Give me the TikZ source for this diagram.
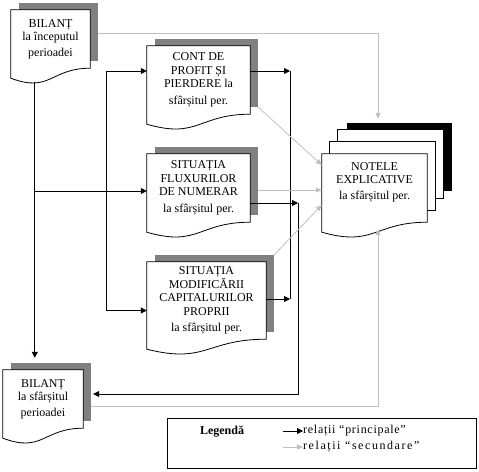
\documentclass[tikz,border=0pt]{standalone}
\usepackage{fontspec}
\setmainfont{Liberation Serif}
\usetikzlibrary{arrows.meta,backgrounds}
\definecolor{umbra}{RGB}{128,128,128}
\definecolor{secund}{RGB}{192,192,192}
\begin{document}
\begin{tikzpicture}[x=1pt,y=-1pt,
    every node/.style={font=\fontsize{12}{13.5}\selectfont},
    doc/.style 2 args={minimum width=#1,minimum height=#2,inner sep=0pt,align=center},
    wire/.style={draw,line width=0.8pt},
    mainarrow/.style={draw,line width=0.8pt,-{Triangle[length=6pt,width=6pt]}},
    secarrow/.style={draw=secund,line width=0.8pt,-{Triangle[length=6pt,width=5pt]}}]
    \def\docpath#1{(#1.north west) -- (#1.north east) -- (#1.south east) .. controls (#1.south) and ([shift={(0,25)}]#1.south) .. ([shift={(0,10)}]#1.south west) -- cycle}
    \def\docshadow#1{([shift={(8,-7)}]#1.north west) rectangle ([shift={(8,-7)}]#1.south east)}
    \useasboundingbox (0,0) rectangle (479,471);
    % documente
    \node[doc={79pt}{58pt}] (bil1) at (50.5,39) {BILANȚ\\la începutul\\[2pt]perioadei};
    \node[doc={103pt}{68pt}] (cont) at (198.5,80) {CONT DE\\PROFIT ȘI\\PIERDERE la\\[3pt]sfârșitul per.};
    \node[doc={103pt}{68pt}] (flux) at (198.5,188) {SITUAȚIA\\FLUXURILOR\\DE NUMERAR\\[3pt]la sfârșitul per.};
    \node[doc={119pt}{77pt}] (modif) at (206.5,300.5) {SITUAȚIA\\MODIFICĂRII\\CAPITALURILOR\\PROPRII\\[3pt]la sfârșitul per.};
    \node[doc={80pt}{58pt}] (bil2) at (43,399) {BILANȚ\\la sfârșitul\\[2pt]perioadei};
    \node[doc={105pt}{68pt}] (note) at (374.5,188) {};
    \node[align=center] (notetext) at (374.5,182) {NOTELE\\EXPLICATIVE\\[2pt]la sfârșitul per.};
    \begin{scope}[on background layer]
        \fill[umbra] \docshadow{bil1};
        \fill[umbra] \docshadow{cont};
        \fill[umbra] \docshadow{flux};
        \fill[umbra] \docshadow{modif};
        \fill[umbra] \docshadow{bil2};
        \draw[fill=white,line width=0.8pt] \docpath{bil1};
        \draw[fill=white,line width=0.8pt] \docpath{cont};
        \draw[fill=white,line width=0.8pt] \docpath{flux};
        \draw[fill=white,line width=0.8pt] \docpath{modif};
        \draw[fill=white,line width=0.8pt] \docpath{bil2};
        \fill ([shift={(25,-31)}]note.north west) rectangle ([shift={(25,-31)}]note.south east);
        \draw[fill=white,line width=0.8pt] ([shift={(16,-24)}]note.north west) rectangle ([shift={(16,-24)}]note.south east);
        \draw[fill=white,line width=0.8pt] ([shift={(8,-12)}]note.north west) rectangle ([shift={(8,-12)}]note.south east);
        \draw[fill=white,line width=0.8pt] \docpath{note};
    \end{scope}
    % relatii principale
    \coordinate (split) at (35,191);
    \coordinate (fork) at (106,191);
    \coordinate (m1) at (290,71);
    \coordinate (m2) at (290,299);
    \coordinate (m3) at (298,203);
    \draw[mainarrow] ([shift={(24,14)}]bil1.south west) -- ([shift={(32,-12)}]bil2.north west);
    \draw[mainarrow] (split) -- (split -| flux.west);
    \draw[mainarrow] (fork) |- ([shift={(0,-9)}]cont.west);
    \draw[mainarrow] (fork) |- ([shift={(0,10)}]modif.west);
    \draw[mainarrow] ([shift={(0,-9)}]cont.east) -- (m1);
    \draw[mainarrow] ([shift={(0,-1.5)}]modif.east) -- (m2);
    \draw[wire] (m1) -- (m2);
    \draw[mainarrow] ([shift={(0,15)}]flux.east) -- (m3);
    \draw[mainarrow] (m3) |- ([shift={(10,-5)}]bil2.east);
    % relatii secundare
    \draw[secarrow] ([shift={(8,-6)}]bil1.east) -| ([shift={(3.5,-35)}]note.north);
    \draw[secarrow] ([shift={(8,-7)}]cont.south east) -- ([shift={(0,-23)}]note.west);
    \draw[secarrow] ([shift={(8,2)}]flux.east) -- ([shift={(0,2)}]note.west);
    \draw[secarrow] ([shift={(8,-7)}]modif.north east) -- ([shift={(0,17)}]note.west);
    \draw[secarrow] ([shift={(8,7)}]bil2.east) -| ([shift={(3.5,7)}]note.south);
    % legenda
    \node[draw,line width=0.8pt,minimum width=309pt,minimum height=50pt,inner sep=0pt] (legend) at (321.5,443) {};
    \node[font=\bfseries\fontsize{12}{13.5}\selectfont] (legtitle) at (222,432) {Legendă};
    \node[anchor=west,inner sep=0pt] (leg1) at (303,431) {\addfontfeature{LetterSpace=6}relații “principale”};
    \node[anchor=west,inner sep=0pt] (leg2) at (303,447) {\addfontfeature{LetterSpace=13}relații “secundare”};
    \coordinate (k1) at (283,431);
    \coordinate (k2) at (283,447);
    \draw[mainarrow] (k1) -- (leg1.west);
    \draw[secarrow] (k2) -- (leg2.west);
\end{tikzpicture}
\end{document}
